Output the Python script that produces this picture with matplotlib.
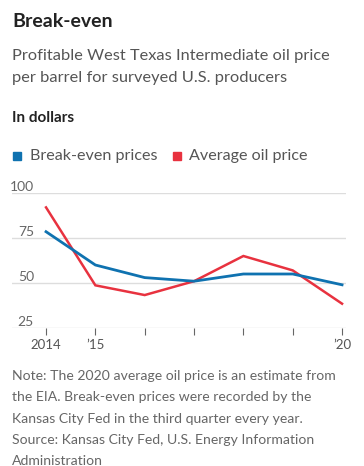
import matplotlib
matplotlib.use("Agg")
import matplotlib.pyplot as plt

# ==================== Data ====================
years = [2014, 2015, 2016, 2017, 2018, 2019, 2020]
year_labels = ["2014", "\u201915", "", "", "", "", "\u201920"]
breakeven = [78.5, 60, 53, 51, 55, 55, 49]
avg_oil = [92, 48.7, 43.3, 51, 65, 57, 38.5]
y_ticks = [25, 50, 75, 100]

BLUE = "#0f72b0"
RED = "#e8323f"
W, H = 364, 466

plt.rcParams['font.family'] = ['Lato', 'DejaVu Sans']

fig = plt.figure(figsize=(W / 100, H / 100), dpi=100)


def px(x, y):
    # pixel coords (top-left origin) -> figure coords
    return x / W, 1 - y / H


# ==================== Header text ====================
fig.text(*px(12, 27), "Break-even", fontsize=14, fontweight="bold",
         color="#222222", va="baseline")
fig.text(*px(12, 60), "Profitable West Texas Intermediate oil price", fontsize=11.8,
         color="#555555", va="baseline")
fig.text(*px(12, 82), "per barrel for surveyed U.S. producers", fontsize=11.8,
         color="#555555", va="baseline")
fig.text(*px(12, 122), "In dollars", fontsize=11, fontweight="bold",
         color="#222222", va="baseline")

# legend
fig.patches.append(plt.Rectangle(px(13, 160), 8 / W, 8 / H, color=BLUE,
                                 transform=fig.transFigure))
fig.text(*px(30, 160), "Break-even prices", fontsize=11.6, color="#555555", va="baseline")
fig.patches.append(plt.Rectangle(px(173, 160), 8 / W, 8 / H, color=RED,
                                 transform=fig.transFigure))
fig.text(*px(189, 160), "Average oil price", fontsize=11.6, color="#555555", va="baseline")

# ==================== Chart ====================
ax = fig.add_axes([12 / W, 1 - 328 / H, 334 / W, 135 / H])
ax.set_xlim(2013.31, 2020.08)
ax.set_ylim(25, 100)
for v in y_ticks:
    ax.axhline(v, color="#dddddd", lw=1, zorder=0)
    ax.text(22 / 334, v, str(v), transform=ax.get_yaxis_transform(),
            ha="right", va="bottom", fontsize=10, color="#666666")

ax.plot(years, avg_oil, color=RED, lw=1.8, solid_joinstyle="miter")
ax.plot(years, breakeven, color=BLUE, lw=2.0, solid_joinstyle="miter")

for s in ax.spines.values():
    s.set_visible(False)
ax.set_yticks([])
ax.set_xticks(years)
ax.set_xticklabels(year_labels, fontsize=9.5, color="#555555")
ax.tick_params(axis="x", length=5, width=0.8, color="#666666", pad=3)

# ==================== Footnote ====================
note = ["Note: The 2020 average oil price is an estimate from",
        "the EIA. Break-even prices were recorded by the",
        "Kansas City Fed in the third quarter every year.",
        "Source: Kansas City Fed, U.S. Energy Information",
        "Administration"]
for i, line in enumerate(note):
    fig.text(*px(12, 380 + i * 21.3), line, fontsize=10.1, color="#666666", va="baseline")

fig.savefig("out.png", dpi=100)
